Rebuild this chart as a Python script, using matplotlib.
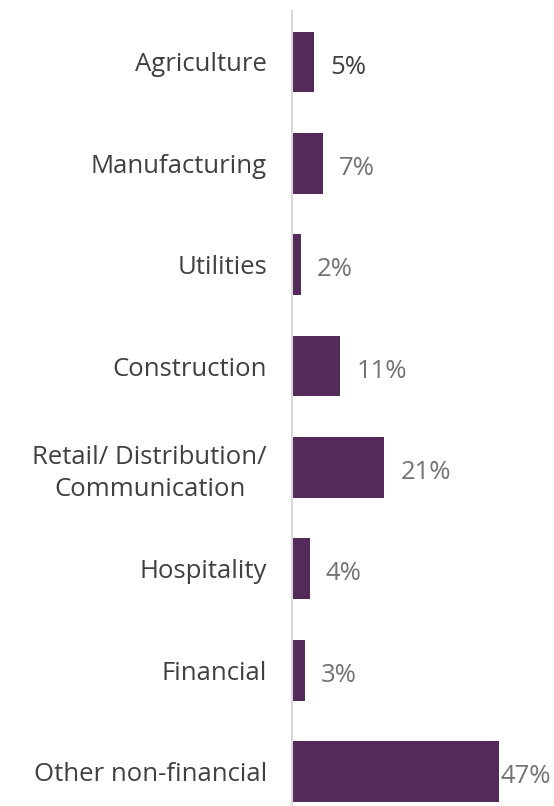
import matplotlib.pyplot as plt
import numpy as np

plt.rcParams['font.family'] = ['Open Sans', 'DejaVu Sans']

sectors = ['Agriculture', 'Manufacturing', 'Utilities', 'Construction',
           'Retail/ Distribution/\nCommunication', 'Hospitality', 'Financial',
           'Other non-financial']
shares = [5, 7, 2, 11, 21, 4, 3, 47]

bar_color = '#532a5a'

fig = plt.figure(figsize=(5.54, 8.06), dpi=100)
ax = fig.add_axes([0.527, 0.0, 0.473, 0.986])

ypos = np.arange(len(sectors))
ax.barh(ypos, shares, height=0.6, color=bar_color, zorder=2)

ax.set_xlim(0, 59.5)
ax.set_ylim(7.84 - 0.5, -0.5)

ax.set_yticks(ypos, sectors, fontsize=18.5, color='#404040', linespacing=1.35)
ax.tick_params(axis='y', length=0, pad=18)
ax.set_xticks([])
for lbl in ax.get_yticklabels():
    lbl.set_multialignment('center')

for side in ['top', 'right', 'bottom']:
    ax.spines[side].set_visible(False)
ax.spines['left'].set_color('#d9d9d9')
ax.spines['left'].set_linewidth(1.5)

# value labels next to each bar
for i, v in enumerate(shares):
    off = 0.3 if v == max(shares) else 3.6
    col = '#404040' if i == 0 else '#737373'
    ax.text(v + off, i + 0.05, f'{v}%', va='center', ha='left',
            fontsize=18.5, color=col)

fig.savefig('out.png', dpi=100)
